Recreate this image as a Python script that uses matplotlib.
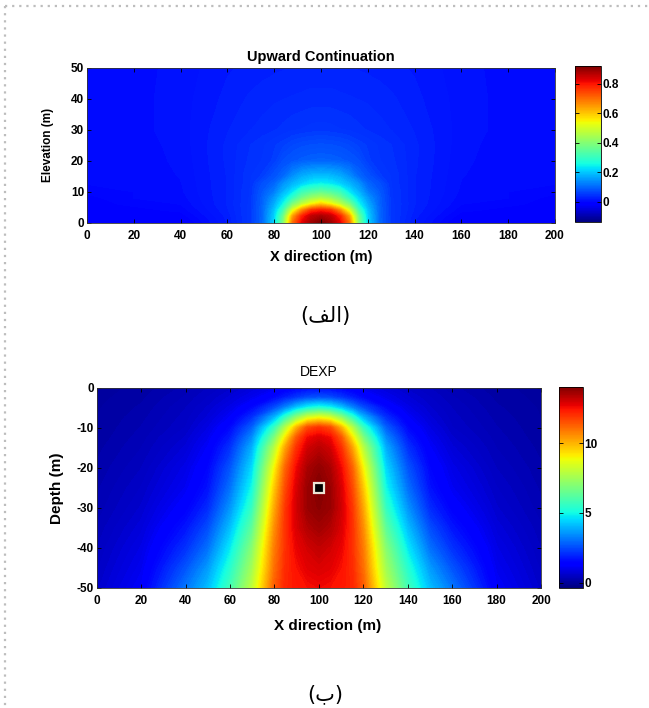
import numpy as np
import matplotlib
matplotlib.use("Agg")
import matplotlib.pyplot as plt
from matplotlib.lines import Line2D
from matplotlib.colors import Normalize
from matplotlib.cm import ScalarMappable

plt.rcParams['font.family'] = ['Liberation Sans', 'DejaVu Sans']
plt.rcParams['axes.unicode_minus'] = False

# ---------------- data ----------------
# Upward continuation: values by horizontal offset from x=100 (symmetric)
uc_offsets = [0, 4, 8, 12, 16, 20, 25, 30, 40, 60, 80, 100]
uc_elev = [0, 2, 4, 6, 8, 10, 12.5, 15, 20, 25, 30, 40, 50]
uc_values = [
    [0.92, 0.887, 0.822, 0.693, 0.39, 0.208, 0.10, 0.05, 0.02, -0.02, -0.01, -0.01],
    [0.88, 0.86, 0.786, 0.64, 0.368, 0.203, 0.098, 0.05, 0.022, -0.012, -0.01, -0.01],
    [0.784, 0.76, 0.66, 0.51, 0.31, 0.19, 0.097, 0.05, 0.025, -0.005, -0.01, -0.01],
    [0.585, 0.54, 0.47, 0.383, 0.25, 0.168, 0.094, 0.049, 0.027, 0.0, -0.005, -0.01],
    [0.445, 0.42, 0.37, 0.29, 0.213, 0.146, 0.092, 0.048, 0.027, 0.003, 0.0, -0.01],
    [0.347, 0.33, 0.30, 0.23, 0.176, 0.12, 0.085, 0.048, 0.027, 0.005, 0.0, -0.005],
    [0.245, 0.235, 0.21, 0.18, 0.145, 0.097, 0.075, 0.046, 0.027, 0.006, 0.001, 0.0],
    [0.19, 0.185, 0.17, 0.14, 0.10, 0.079, 0.055, 0.046, 0.027, 0.007, 0.002, 0.0],
    [0.096, 0.094, 0.09, 0.083, 0.074, 0.055, 0.047, 0.042, 0.028, 0.008, 0.003, 0.0],
    [0.075, 0.074, 0.071, 0.066, 0.058, 0.052, 0.045, 0.04, 0.028, 0.009, 0.003, 0.0],
    [0.05, 0.049, 0.047, 0.045, 0.042, 0.039, 0.036, 0.033, 0.026, 0.01, 0.004, 0.001],
    [0.036, 0.036, 0.035, 0.034, 0.033, 0.032, 0.030, 0.028, 0.022, 0.01, 0.004, 0.001],
    [0.028, 0.028, 0.027, 0.027, 0.026, 0.025, 0.024, 0.022, 0.019, 0.009, 0.004, 0.001],
]
uc_center = 100
uc_clim = (-0.14, 0.92)
uc_ticks = [0, 0.2, 0.4, 0.6, 0.8]

# DEXP: values by horizontal offset from x=100 (symmetric)
dx_offsets = [0, 5, 10, 15, 20, 30, 40, 50, 60, 80, 100]
dx_depth = [0, -2.5, -5, -7.5, -10, -12.5, -15, -20, -25, -30, -35, -40, -45, -50]
dx_values = [
    [1.5, 1.45, 1.35, 1.2, 1.05, 0.8, 0.6, 0.45, 0.3, 0.12, 0.05],
    [2.6, 2.5, 2.2, 1.85, 1.5, 1.05, 0.75, 0.55, 0.38, 0.16, 0.06],
    [5.2, 4.9, 4.2, 3.3, 2.5, 1.5, 0.95, 0.65, 0.45, 0.2, 0.08],
    [8.8, 8.4, 7.2, 5.6, 4.0, 2.1, 1.2, 0.75, 0.5, 0.24, 0.09],
    [12.0, 11.6, 10.0, 7.8, 5.6, 2.8, 1.5, 0.9, 0.55, 0.28, 0.1],
    [12.9, 12.6, 11.4, 9.2, 6.8, 3.4, 1.8, 1.05, 0.65, 0.32, 0.12],
    [13.3, 13.0, 12.0, 10.2, 7.8, 3.9, 2.1, 1.2, 0.75, 0.36, 0.15],
    [13.8, 13.5, 12.6, 11.2, 8.9, 4.5, 2.6, 1.45, 0.95, 0.45, 0.2],
    [14.06, 13.7, 12.9, 11.6, 9.6, 5.0, 3.0, 1.65, 1.1, 0.55, 0.25],
    [13.9, 13.7, 13.0, 11.9, 10.1, 5.6, 3.5, 2.0, 1.35, 0.65, 0.3],
    [13.6, 13.4, 12.9, 12.0, 10.5, 6.3, 4.1, 2.5, 1.7, 0.78, 0.38],
    [13.2, 13.0, 12.7, 12.0, 10.8, 7.0, 4.7, 3.0, 2.1, 0.92, 0.45],
    [12.9, 12.8, 12.5, 12.1, 11.0, 7.5, 5.3, 3.6, 2.6, 1.05, 0.52],
    [12.6, 12.5, 12.4, 12.2, 11.3, 8.0, 5.8, 4.1, 3.1, 1.2, 0.6],
]
dx_center = 100
dx_clim = (-0.36, 14.06)
dx_ticks = [0, 5, 10]
source_x = [100]
source_depth = [-25]

x_ticks = [0, 20, 40, 60, 80, 100, 120, 140, 160, 180, 200]
uc_yticks = [0, 10, 20, 30, 40, 50]
dx_yticks = [0, -10, -20, -30, -40, -50]

label_a = "(\uFED2\uFEDF\uFE8D)"   # (الف) in visual order
label_b = "(\uFE8F)"               # (ب)


def mirrored(center, offsets, values):
    off = np.asarray(offsets, float)
    vals = np.asarray(values, float)
    xs = np.concatenate([center - off[:0:-1], center + off])
    vs = np.concatenate([vals[:, :0:-1], vals], axis=1)
    return xs, vs


def filled(ax, xs, ys, vs, clim):
    levels = np.linspace(clim[0] - 1e-6, clim[1] + 1e-6, 160)
    cs = ax.contourf(xs, ys, vs, levels=levels, cmap='jet',
                     norm=Normalize(*clim))
    cs.set_edgecolor('face')
    cs.set_linewidth(0.4)
    cs.set_rasterized(True)
    return cs


# ---------------- figure ----------------
fig = plt.figure(figsize=(6.49, 7.08), dpi=100)
fig.patch.set_facecolor('white')

def style_axes(ax, fs, xpad):
    ax.tick_params(direction='in', length=3, width=0.6, top=True, right=True,
                   labelsize=fs, pad=2)
    ax.tick_params(axis='x', pad=xpad)
    for lab in ax.get_xticklabels() + ax.get_yticklabels():
        lab.set_fontweight('bold')
    for s in ax.spines.values():
        s.set_linewidth(0.6)
        s.set_color('#333333')


def colorbar(cax, clim, ticks, fs):
    sm = ScalarMappable(norm=Normalize(*clim), cmap='jet')
    cb = fig.colorbar(sm, cax=cax, ticks=ticks)
    cb.ax.tick_params(direction='in', length=3, width=0.6, labelsize=fs, pad=1,
                      left=True)
    cb.ax.set_yticklabels([f'{t:g}' for t in ticks], fontweight='bold')
    cb.outline.set_linewidth(0.6)
    return cb


# Top: upward continuation
ax1 = fig.add_axes([0.134, 0.6855, 0.7211, 0.2189])
xs, vs = mirrored(uc_center, uc_offsets, uc_values)
filled(ax1, xs, uc_elev, vs, uc_clim)
ax1.set_xlim(0, 200)
ax1.set_ylim(0, 50)
ax1.set_xticks(x_ticks)
ax1.set_yticks(uc_yticks)
style_axes(ax1, 8.5, 5)
ax1.set_title('Upward Continuation', fontsize=10.5, fontweight='bold', pad=4.5)
ax1.set_xlabel('X direction (m)', fontsize=10.5, fontweight='bold', labelpad=6)
ax1.set_ylabel('Elevation (m)', fontsize=8.5, fontweight='bold', labelpad=12)

cax1 = fig.add_axes([0.8865, 0.686, 0.0396, 0.2203])
colorbar(cax1, uc_clim, uc_ticks, 8.5)

# Bottom: DEXP
ax2 = fig.add_axes([0.149, 0.1695, 0.6846, 0.2829])
xs2, vs2 = mirrored(dx_center, dx_offsets, dx_values)
filled(ax2, xs2, dx_depth, vs2, dx_clim)
ax2.plot(source_x, source_depth, marker='s', linestyle='none', markersize=6.5,
         markerfacecolor='black', markeredgecolor='#ece4d4', markeredgewidth=1.6)
ax2.set_xlim(0, 200)
ax2.set_ylim(-50, 0)
ax2.set_xticks(x_ticks)
ax2.set_yticks(dx_yticks)
style_axes(ax2, 8.5, 5)
ax2.set_title('DEXP', fontsize=10, pad=8.5)
ax2.set_xlabel('X direction (m)', fontsize=11, fontweight='bold', labelpad=13)
ax2.xaxis.set_label_coords(0.5206, -0.155)
ax2.set_ylabel('Depth (m)', fontsize=11, fontweight='bold', labelpad=9)

cax2 = fig.add_axes([0.8613, 0.1699, 0.0374, 0.2839])
colorbar(cax2, dx_clim, dx_ticks, 8.5)

# Arabic panel labels
fig.text(325 / 649, 1 - 316 / 708, label_a, family='DejaVu Sans', fontsize=15,
         ha='center', va='center')
fig.text(325 / 649, 1 - 694 / 708, label_b, family='DejaVu Sans', fontsize=15,
         ha='center', va='center')

# Dotted frame (top and left)
W, H = 649, 708
fig.add_artist(Line2D([5 / W, 1.0], [1 - 6 / H, 1 - 6 / H], transform=fig.transFigure,
                      color='#bdbdbd', linewidth=1.6, linestyle=(0, (1, 2.2))))
fig.add_artist(Line2D([5 / W, 5 / W], [1 - 6 / H, 0], transform=fig.transFigure,
                      color='#bdbdbd', linewidth=1.6, linestyle=(0, (1, 2.2))))

fig.savefig('out.png', dpi=100, facecolor='white')
